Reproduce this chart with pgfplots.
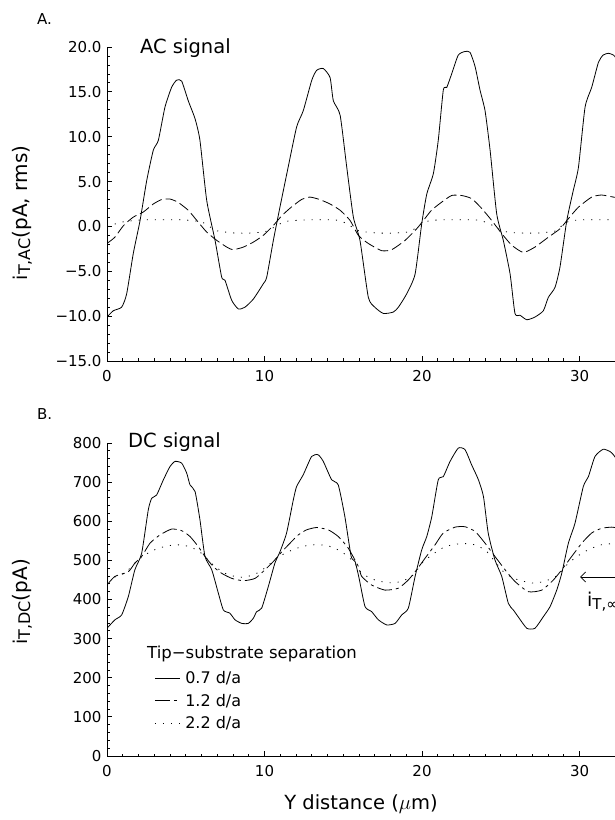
\documentclass[border=0pt]{standalone}
\usepackage{fontspec}
\setmainfont{DejaVu Sans}
\usepackage{pgfplots}
\usepackage{pgfplotstable}
\pgfplotsset{compat=1.18}
\usetikzlibrary{arrows.meta}

\pgfplotstableread{
x y
0 -10.1
0.4 -9.4
0.93 -9.0
1.25 -7.5
1.67 -3.0
2.1 0.67
2.52 5.1
2.94 8.5
3.26 9.6
3.68 13.3
4.1 15.5
4.42 16.3
4.74 16.2
5.16 14.0
5.59 12.0
5.9 9.6
6.33 2.9
6.86 -1.56
7.28 -5.65
7.49 -6.0
7.92 -8.25
8.34 -9.2
8.76 -9.0
9.29 -8.1
9.92 -6.4
10.14 -5.65
10.56 -1.56
10.98 2.15
11.5 6.6
12.04 11.1
12.46 12.9
13.0 16.3
13.31 17.4
13.73 17.6
14.16 16.6
14.37 14.0
14.8 12.4
15.22 6.6
15.64 1.04
16.06 -1.56
16.59 -7.9
17.0 -9.0
17.54 -9.7
18.17 -9.55
18.5 -9.0
19.03 -7.5
19.56 -5.3
19.98 0.3
20.3 3.6
20.72 5.9
21.03 9.6
21.35 15.2
21.57 15.5
21.88 17.0
22.3 19.1
22.73 19.5
23.05 19.4
23.37 17.8
23.68 15.2
24.0 12.9
24.32 8.5
24.74 1.4
25.16 -1.56
25.59 -5.3
25.9 -9.7
26.22 -9.9
26.65 -10.4
27.17 -10.1
27.7 -9.4
28.02 -7.9
28.44 -6.8
28.76 -4.5
29.19 0.67
29.6 4.0
29.93 6.6
30.35 13.3
30.77 15.5
31.2 18.3
31.5 19.1
31.83 19.3
32.15 19.1
32.4 18.6
}\acA

\pgfplotstableread{
x y
0 -1.9
0.5 -1.2
1.05 0.1
1.67 1.04
2.3 1.6
2.94 2.5
3.47 3.0
4.0 3.05
4.5 2.7
5.16 1.8
5.7 0.67
6.33 -0.63
6.97 -1.56
7.6 -2.3
8.0 -2.6
8.66 -2.3
9.29 -1.75
9.92 -1.0
10.56 0.1
11.1 1.2
11.7 2.15
12.35 3.0
12.88 3.27
13.5 3.0
14.16 2.5
14.8 1.8
15.43 0.67
15.96 -1.0
16.59 -1.9
17.43 -2.7
18.07 -2.6
18.92 -1.56
19.66 -0.26
20.09 0.67
20.6 1.8
21.24 2.7
21.88 3.45
22.51 3.45
23.15 3.1
23.79 2.0
24.42 0.67
25.06 -0.8
25.7 -2.1
26.43 -2.9
27.17 -2.3
28.02 -1.2
28.76 -0.26
29.29 0.86
29.93 2.15
30.77 3.27
31.4 3.5
32.15 3.27
32.4 3.2
}\acB

\pgfplotstableread{
x y
0 0.0
1 0.5
2 0.7
3 0.75
4 0.75
5 0.72
6 0.5
6.5 0.0
7 -0.5
8 -0.72
9 -0.75
10 -0.6
10.5 -0.2
11 0.3
11.5 0.6
12.5 0.72
13.5 0.75
14.5 0.72
15 0.5
15.5 0.0
16 -0.5
17 -0.72
18 -0.75
19 -0.65
19.5 -0.3
20 0.3
20.5 0.65
21.5 0.75
22.5 0.75
23.5 0.72
24 0.5
24.5 0.1
25 -0.4
25.5 -0.65
26.5 -0.75
27.5 -0.72
28.5 -0.5
29 0.3
29.5 0.65
30.5 0.75
32.4 0.75
}\acC

\pgfplotstableread{
x y
0 326.5
0.5 348
0.93 360.6
1.35 407
1.77 476
2.2 518
2.62 629
2.84 659
3.15 667
3.58 706
4.0 740
4.32 753
4.74 748.6
5.06 723
5.27 693
5.59 676
5.9 604
6.22 510
6.65 476
7.07 416
7.39 373
7.8 365
8.13 348
8.55 339
8.97 339
9.29 352
9.5 369
9.82 378
10.24 433
10.66 493
10.98 522
11.4 570
11.83 655
12.04 689
12.46 719
12.99 765.6
13.4 770
13.73 753
14.26 706
14.68 693
15.1 612
15.5 510
15.75 497
16.0 455
16.38 382
16.8 369
17.23 348
17.76 335
18.29 339
18.71 360.6
19.13 378
19.56 459
19.98 527
20.3 561
20.62 612
21.03 706
21.35 714
21.78 753
22.3 787
22.73 783
23.15 744
23.58 706
23.9 663
24.2 570
24.63 501
25.06 459
25.48 390
25.8 373
26.1 356
26.65 326.5
27.17 326.5
27.7 356
28.13 382
28.55 424
28.87 467
29.29 544
29.71 595
30.24 689
30.56 714
30.98 765.6
31.5 784
31.94 778
32.15 770
32.4 755
}\dcA

\pgfplotstableread{
x y
0 437
0.5 459
1.35 471
1.77 493
2.2 510
2.73 544
3.36 565
4.1 580
4.74 576
5.27 561
5.8 535
6.22 510
6.75 484
7.28 467
7.92 454
8.66 448
9.4 454
10.03 476
10.56 497
11.1 522
11.62 544
12.14 565
12.67 578
13.3 584
14.05 578
14.68 561
15.32 531
15.96 484
16.17 459
16.8 437
17.65 424
18.5 429
19.13 450
19.66 476
20.2 506
20.83 540
21.35 570
22.1 585
22.73 586
23.37 574
24.0 544
24.63 510
25.27 476
25.9 446
26.75 420
27.6 424
28.34 450
28.87 476
29.5 510
30.14 544
30.77 570
31.4 582
32.04 585
32.4 583
}\dcB

\pgfplotstableread{
x y
0 456
0.2 454
1.1 467
1.77 493
2.4 514
3.26 531
4.32 540
5.27 535
6.0 518
6.75 488
7.49 467
8.13 459
8.76 457
9.5 467
10.14 484
10.77 506
11.5 522
12.35 535
13.2 540
14.05 537
14.9 522
15.64 497
16.17 467
17.0 450
17.86 443
18.71 446
19.45 463
20.0 493
20.62 514
21.46 535
22.3 542
23.15 542
24.0 527
24.63 497
25.27 467
26.1 450
27.17 441.6
28.02 450
28.66 463
29.29 493
30.14 518
30.77 531
31.4 540
32.4 544
}\dcC

\pgfplotsset{
  panel/.style={
    scale only axis, width=508pt,
    xmin=0, xmax=32.25,
    axis x line*=bottom, axis y line*=left,
    axis line style={line width=0.9pt},
    tick align=inside,
    major tick length=5pt, minor tick length=2.5pt,
    tick style={line width=0.8pt, black},
    xtick={0,10,20,30}, minor x tick num=9,
    minor y tick num=4,
    /pgf/number format/assume math mode=true,
    ticklabel style={font=\fontsize{15}{17}\selectfont},
    xticklabel style={yshift=-6pt},
    yticklabel style={xshift=-2pt},
    every axis plot/.append style={line width=0.8pt, black, no marks, smooth, tension=0.35},
  },
  dashedline/.style={dash pattern=on 11pt off 4pt},
  dottedline/.style={dash pattern=on 1.1pt off 7pt},
}

\begin{document}
\begin{tikzpicture}[x=1pt,y=1pt]
% Panel A
\begin{axis}[panel, height=314pt, at={(107pt,459pt)}, anchor=south west,
  ymin=-15, ymax=20,
  ytick={-15,-10,-5,0,5,10,15,20},
  yticklabels={−15.0,−10.0,−5.0,0.0,5.0,10.0,15.0,20.0}]
\addplot[solid] table {\acA};
\addplot[dashedline] table {\acB};
\addplot[dottedline] table {\acC};
\end{axis}
% Panel B
\begin{axis}[panel, height=313pt, at={(107pt,64pt)}, anchor=south west,
  ymin=0, ymax=800,
  ytick={0,100,...,800},
  yticklabels={0,100,200,300,400,500,600,700,800},
  legend style={draw=none, fill=none, inner sep=0pt,
    at={(axis cs:3.0,222)}, anchor=north west,
    font=\fontsize{16}{18}\selectfont, row sep=5pt,
    cells={anchor=west}},
  legend image code/.code={\draw[#1] (0pt,0pt) -- (25pt,0pt);}]
\addplot[solid] table {\dcA};
\addlegendentry{\hspace{3pt}0.7 d/a}
\addplot[dash pattern=on 15pt off 4pt on 3pt off 4pt] table {\dcB};
\addlegendentry{\hspace{3pt}1.2 d/a}
\addplot[dottedline] table {\dcC};
\addlegendentry{\hspace{3pt}2.2 d/a}
\node[anchor=base west, font=\fontsize{16.5}{18}\selectfont, inner sep=0pt]
  at (axis cs:2.54,250) {Tip−substrate separation};
\end{axis}
% arrow annotation
\draw[line width=0.8pt, -{Straight Barb[length=5pt,width=10pt]}] (616pt,243pt) -- (580pt,243pt);
\node[anchor=base west, inner sep=0pt] at (587pt,213pt)
  {{\fontsize{19}{19}\selectfont i}\raisebox{-3pt}{\fontsize{15}{15}\selectfont T,∞}};
% panel letters and titles
\node[anchor=base west, inner sep=0pt, font=\fontsize{15}{15}\selectfont] at (37pt,795pt) {A.};
\node[anchor=base west, inner sep=0pt, font=\fontsize{15}{15}\selectfont] at (37pt,400pt) {B.};
\node[anchor=base west, inner sep=0pt, font=\fontsize{19.5}{20}\selectfont] at (140pt,766pt) {AC signal};
\node[anchor=base west, inner sep=0pt, font=\fontsize{19.5}{20}\selectfont] at (128pt,372pt) {DC signal};
% y labels
\node[rotate=90, inner sep=0pt] at (22pt,607pt)
  {{\fontsize{19}{19}\selectfont i}\raisebox{-3pt}{\fontsize{16}{16}\selectfont T,AC}{\fontsize{20}{20}\selectfont (pA, rms)}};
\node[rotate=90, inner sep=0pt] at (22pt,218pt)
  {{\fontsize{19}{19}\selectfont i}\raisebox{-3pt}{\fontsize{16}{16}\selectfont T,DC}{\fontsize{20}{20}\selectfont (pA)}};
% x label
\node[anchor=base, inner sep=0pt, font=\fontsize{19.5}{20}\selectfont] at (361pt,10pt) {Y distance ($\mu$m)};
\pgfresetboundingbox
\useasboundingbox (0pt,0pt) rectangle (615pt,820pt);
\end{tikzpicture}
\end{document}
